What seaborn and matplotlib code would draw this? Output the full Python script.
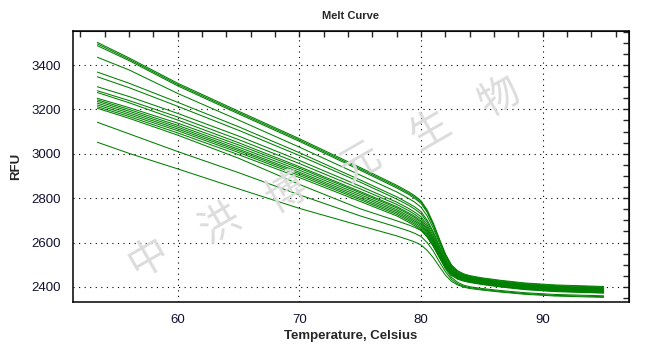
import numpy as np
import pandas as pd
import matplotlib
matplotlib.use('Agg')
import matplotlib.pyplot as plt
import seaborn as sns
from matplotlib.ticker import MultipleLocator

# melt curve readings, one list per well (RFU at each temperature)
temps = [53.4, 56, 60, 65, 70, 75, 78, 79, 79.5, 80, 80.5, 81, 81.5, 82, 82.5,
         83, 83.5, 84, 85, 86.5, 88.5, 91, 95]

w01 = [3502, 3432, 3318, 3192, 3068, 2938, 2858, 2828, 2810, 2788, 2747, 2688, 2617, 2549, 2499, 2473, 2459, 2451, 2441, 2430, 2418, 2409, 2402]
w02 = [3495, 3426, 3312, 3186, 3062, 2932, 2852, 2822, 2804, 2782, 2741, 2683, 2612, 2545, 2495, 2470, 2456, 2448, 2438, 2427, 2415, 2406, 2399]
w03 = [3487, 3420, 3306, 3180, 3056, 2926, 2846, 2816, 2798, 2776, 2736, 2678, 2608, 2541, 2492, 2466, 2453, 2445, 2435, 2424, 2412, 2403, 2396]
w04 = [3435, 3378, 3272, 3152, 3030, 2904, 2828, 2798, 2781, 2759, 2720, 2665, 2598, 2534, 2487, 2463, 2451, 2443, 2433, 2422, 2410, 2401, 2394]
w05 = [3368, 3318, 3232, 3122, 3005, 2882, 2806, 2776, 2760, 2739, 2701, 2649, 2586, 2526, 2482, 2460, 2448, 2440, 2431, 2420, 2408, 2399, 2392]
w06 = [3347, 3298, 3214, 3106, 2992, 2872, 2796, 2767, 2750, 2729, 2692, 2641, 2580, 2522, 2479, 2457, 2446, 2438, 2429, 2418, 2406, 2397, 2390]
w07 = [3302, 3258, 3182, 3080, 2970, 2854, 2782, 2753, 2736, 2716, 2680, 2631, 2572, 2516, 2475, 2454, 2443, 2436, 2427, 2416, 2404, 2395, 2388]
w08 = [3284, 3240, 3166, 3064, 2956, 2842, 2772, 2743, 2726, 2706, 2671, 2623, 2566, 2512, 2472, 2452, 2441, 2434, 2425, 2414, 2402, 2393, 2386]
w09 = [3276, 3230, 3152, 3050, 2942, 2830, 2762, 2733, 2717, 2697, 2663, 2616, 2560, 2507, 2469, 2449, 2439, 2432, 2423, 2412, 2400, 2391, 2384]
w10 = [3250, 3208, 3138, 3040, 2935, 2824, 2756, 2727, 2711, 2691, 2657, 2611, 2556, 2504, 2466, 2447, 2437, 2430, 2421, 2410, 2398, 2389, 2382]
w11 = [3243, 3200, 3128, 3030, 2926, 2816, 2748, 2719, 2703, 2683, 2650, 2605, 2551, 2500, 2463, 2445, 2435, 2428, 2419, 2408, 2396, 2387, 2380]
w12 = [3236, 3192, 3120, 3021, 2917, 2808, 2741, 2712, 2696, 2677, 2644, 2599, 2546, 2497, 2461, 2442, 2432, 2426, 2417, 2406, 2394, 2385, 2378]
w13 = [3228, 3184, 3112, 3014, 2910, 2800, 2734, 2705, 2689, 2670, 2638, 2594, 2542, 2493, 2458, 2440, 2430, 2424, 2415, 2404, 2392, 2383, 2376]
w14 = [3220, 3176, 3104, 3006, 2902, 2793, 2727, 2698, 2682, 2663, 2631, 2588, 2537, 2490, 2455, 2438, 2428, 2422, 2413, 2402, 2390, 2381, 2374]
w15 = [3212, 3168, 3094, 2996, 2893, 2785, 2720, 2691, 2675, 2657, 2625, 2583, 2533, 2486, 2452, 2435, 2426, 2420, 2411, 2400, 2388, 2379, 2372]
w16 = [3205, 3160, 3084, 2980, 2862, 2752, 2698, 2679, 2668, 2654, 2626, 2584, 2533, 2482, 2443, 2421, 2408, 2401, 2393, 2384, 2374, 2366, 2360]
w17 = [3142, 3090, 3010, 2915, 2815, 2720, 2670, 2652, 2641, 2627, 2600, 2562, 2514, 2469, 2434, 2414, 2403, 2397, 2389, 2380, 2370, 2362, 2356]
w18 = [3052, 3002, 2932, 2842, 2754, 2676, 2630, 2612, 2602, 2589, 2565, 2532, 2492, 2453, 2425, 2409, 2399, 2393, 2386, 2377, 2367, 2359, 2353]

wells = [w01, w02, w03, w04, w05, w06, w07, w08, w09, w10, w11, w12,
         w13, w14, w15, w16, w17, w18]

df = pd.DataFrame({
    'temp': temps * len(wells),
    'rfu': sum(wells, []),
    'well': np.repeat(np.arange(len(wells)), len(temps)),
})

sns.set_style('white')
plt.rcParams['font.family'] = ['Liberation Sans', 'Noto Sans CJK SC', 'DejaVu Sans']

fig = plt.figure(figsize=(6.52, 3.57), dpi=100)
ax = fig.add_axes([0.112, 0.154, 0.853, 0.759])

# watermark
marks = [('中', 0.227, 0.277), ('洪', 0.337, 0.375), ('博', 0.440, 0.459),
         ('元', 0.552, 0.543), ('生', 0.660, 0.636), ('物', 0.767, 0.728)]
for ch, fx, fy in marks:
    fig.text(fx, fy, ch, fontsize=29, color='#dcdcdc', rotation=30,
             ha='center', va='center', family=['Noto Sans CJK SC', 'DejaVu Sans'],
             zorder=0.5)

sns.lineplot(data=df, x='temp', y='rfu', units='well', estimator=None,
             color='#008000', linewidth=0.75, ax=ax, zorder=3)

ax.set_xlim(51.4, 97.1)
ax.set_ylim(2332, 3553)
ax.patch.set_alpha(0)

ax.xaxis.set_major_locator(MultipleLocator(10))
ax.xaxis.set_minor_locator(MultipleLocator(2))
ax.yaxis.set_major_locator(MultipleLocator(200))
ax.yaxis.set_minor_locator(MultipleLocator(50))

ax.grid(True, which='major', color='black', linestyle=(0, (1, 4)), linewidth=0.8)
ax.tick_params(which='major', direction='out', length=5, width=1, labelsize=9.5,
               labelcolor='#101030', color='black')
ax.tick_params(which='minor', direction='out', length=3.5, width=1, color='black')

for side in ['top', 'right', 'left', 'bottom']:
    ax.spines[side].set_visible(True)
    ax.spines[side].set_color('black')
    ax.spines[side].set_linewidth(1.1)

# inward ticks on the top and right frame
secx = ax.secondary_xaxis('top')
secx.xaxis.set_major_locator(MultipleLocator(10))
secx.xaxis.set_minor_locator(MultipleLocator(2))
secx.tick_params(which='both', direction='in', length=4, width=1, labeltop=False)
secy = ax.secondary_yaxis('right')
secy.yaxis.set_major_locator(MultipleLocator(200))
secy.yaxis.set_minor_locator(MultipleLocator(50))
secy.tick_params(which='both', direction='in', length=4, width=1, labelright=False)

ax.set_xlabel('Temperature, Celsius', fontsize=9.5, fontweight='bold', labelpad=3)
ax.set_ylabel('RFU', fontsize=9.5, fontweight='bold', labelpad=7)
fig.text(0.538, 0.955, 'Melt Curve', fontsize=8, fontweight='bold',
         ha='center', va='center')

fig.savefig('out.png', dpi=100)
